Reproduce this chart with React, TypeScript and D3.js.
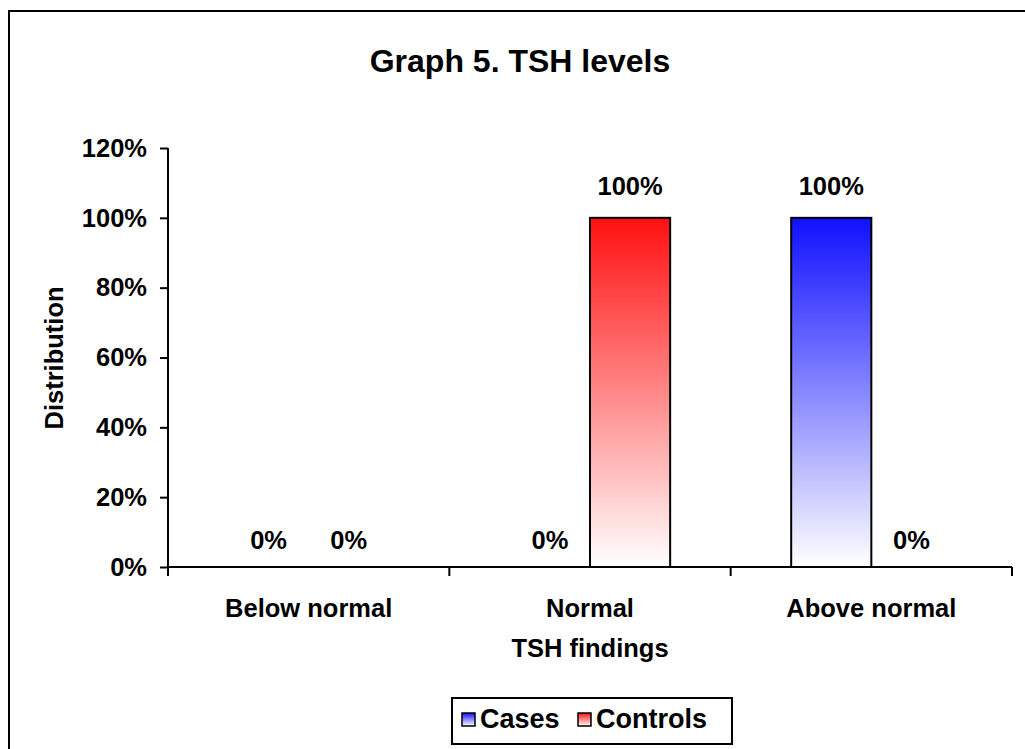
import React, { useEffect, useRef } from 'react';
import * as d3 from 'd3';

const categories = ['Below normal', 'Normal', 'Above normal'];
const seriesNames = ['Cases', 'Controls'];
const cases = [0, 0, 1];
const controls = [0, 1, 0];
const yTicks = [0, 0.2, 0.4, 0.6, 0.8, 1.0, 1.2];

const W = 1025;
const H = 749;
const PLOT = { left: 168, right: 1012, top: 148, bottom: 567 };
const FONT = 'Arial, "Liberation Sans", sans-serif';
const FS = 25.5;

export default function App() {
  const svgRef = useRef<SVGSVGElement>(null);

  useEffect(() => {
    if (!svgRef.current) return;
    const svg = d3.select(svgRef.current);
    svg.selectAll('*').remove();

    const defs = svg.append('defs');
    const grad = (id: string, color: string) => {
      const lg = defs.append('linearGradient').attr('id', id)
        .attr('x1', 0).attr('y1', 0).attr('x2', 0).attr('y2', 1);
      lg.append('stop').attr('offset', '0%').attr('stop-color', color);
      lg.append('stop').attr('offset', '100%').attr('stop-color', '#ffffff');
    };
    grad('gCases', '#1010ff');
    grad('gControls', '#ff1010');
    const fills = ['url(#gCases)', 'url(#gControls)'];

    svg.append('rect').attr('width', W).attr('height', H).attr('fill', '#fff');
    // outer chart frame (runs off the right/bottom edge)
    svg.append('rect').attr('x', 9).attr('y', 11).attr('width', 1100).attr('height', 900)
      .attr('fill', 'none').attr('stroke', '#000').attr('stroke-width', 2);

    const x0 = d3.scaleBand().domain(categories).range([PLOT.left, PLOT.right]).paddingInner(0).paddingOuter(0);
    const x1 = d3.scaleBand().domain(seriesNames).range([0, x0.bandwidth()]).paddingInner(0).paddingOuter(0.755);
    const y = d3.scaleLinear().domain([0, 1.2]).range([PLOT.bottom, PLOT.top]);

    // Title
    svg.append('text').attr('x', 520).attr('y', 72).attr('text-anchor', 'middle')
      .attr('font-family', FONT).attr('font-weight', 'bold').attr('font-size', 32)
      .text('Graph 5. TSH levels');

    // Y axis
    const yAxis = svg.append('g').attr('transform', `translate(${PLOT.left},0)`)
      .call(d3.axisLeft(y).tickValues(yTicks).tickSize(8).tickPadding(13).tickFormat(d => `${Math.round((d as number) * 100)}%`));
    yAxis.selectAll('path,line').attr('stroke', '#000').attr('stroke-width', 2);
    yAxis.select('.domain').attr('d', `M0,${PLOT.top}V${PLOT.bottom}`);
    yAxis.selectAll('text').attr('font-family', FONT).attr('font-weight', 'bold').attr('font-size', FS).attr('fill', '#000');

    // X axis
    const xAxisG = svg.append('g').attr('transform', `translate(0,${PLOT.bottom})`);
    xAxisG.append('path').attr('d', `M${PLOT.left},0H${PLOT.right}`).attr('stroke', '#000').attr('stroke-width', 2);
    const xTickPos = [...categories.map(c => x0(c) as number), PLOT.right];
    xAxisG.selectAll('line.tick').data(xTickPos).join('line')
      .attr('x1', d => d).attr('x2', d => d).attr('y1', 0).attr('y2', 9)
      .attr('stroke', '#000').attr('stroke-width', 2);
    xAxisG.selectAll('text.cat').data(categories).join('text')
      .attr('x', d => (x0(d) as number) + x0.bandwidth() / 2).attr('y', 50)
      .attr('text-anchor', 'middle').attr('font-family', FONT).attr('font-weight', 'bold').attr('font-size', FS)
      .text(d => d);

    // Axis titles
    svg.append('text').attr('x', 590).attr('y', 657).attr('text-anchor', 'middle')
      .attr('font-family', FONT).attr('font-weight', 'bold').attr('font-size', FS).text('TSH findings');
    svg.append('text').attr('transform', 'translate(63,358) rotate(-90)').attr('text-anchor', 'middle')
      .attr('font-family', FONT).attr('font-weight', 'bold').attr('font-size', FS).text('Distribution');

    // Bars + labels
    const series = [cases, controls];
    series.forEach((vals, si) => {
      const g = svg.append('g');
      categories.forEach((c, ci) => {
        const v = vals[ci];
        const bx = (x0(c) as number) + (x1(seriesNames[si]) as number);
        const bw = x1.bandwidth();
        if (v > 0) {
          g.append('rect').attr('x', bx).attr('y', y(v)).attr('width', bw).attr('height', y(0) - y(v))
            .attr('fill', fills[si]).attr('stroke', '#000').attr('stroke-width', 2);
        }
        g.append('text').attr('x', bx + bw / 2).attr('y', y(v) - (v > 0 ? 23 : 18))
          .attr('text-anchor', 'middle').attr('font-family', FONT).attr('font-weight', 'bold').attr('font-size', FS)
          .text(`${Math.round(v * 100)}%`);
      });
    });

    // Legend
    const lg = svg.append('g').attr('transform', 'translate(452,698)');
    lg.append('rect').attr('width', 280).attr('height', 46).attr('fill', '#fff').attr('stroke', '#000').attr('stroke-width', 2);
    const items = [{ x: 10, label: 'Cases' }, { x: 126, label: 'Controls' }];
    items.forEach((it, i) => {
      lg.append('rect').attr('x', it.x).attr('y', 15).attr('width', 13).attr('height', 13)
        .attr('fill', fills[i]).attr('stroke', '#000').attr('stroke-width', 1.5);
      lg.append('text').attr('x', it.x + 18).attr('y', 30).attr('font-family', FONT).attr('font-weight', 'bold')
        .attr('font-size', 27).text(seriesNames[i]);
    });
  }, []);

  return (
    <svg ref={svgRef} width={W} height={H} style={{ position: 'absolute', left: 0, top: 0, display: 'block' }} />
  );
}
